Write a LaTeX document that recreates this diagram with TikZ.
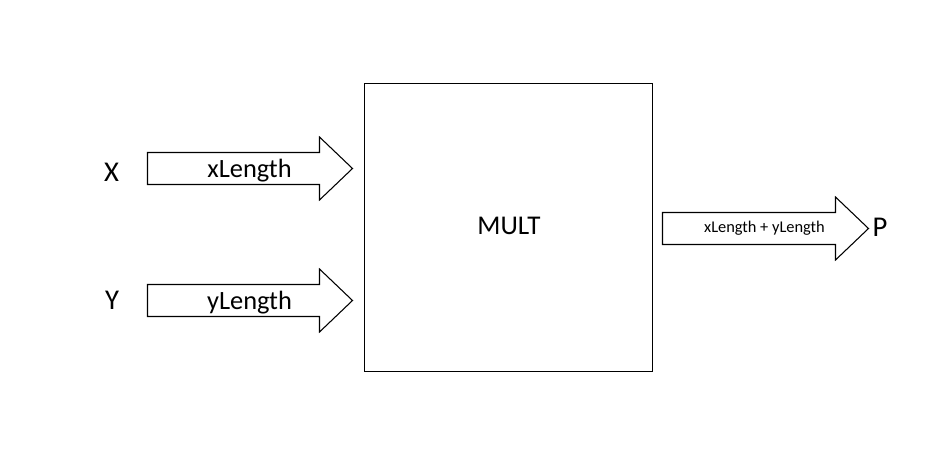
\documentclass[tikz,border=0pt]{standalone}
\usepackage{fontspec}
\setmainfont{Carlito}
\begin{document}
\begin{tikzpicture}[x=0.75pt,y=-0.75pt,
  shapeline/.style={draw=black,line width=0.8pt,fill=white,line join=miter},
  lbl/.style={inner sep=0pt,anchor=base}]
\useasboundingbox (0,0) rectangle (936,456);
\fill[white] (0,0) rectangle (936,456);
% MULT box
\draw[shapeline] (364.5,83.5) rectangle (652.5,371.5);
\node[lbl,font=\fontsize{20.3}{24}\selectfont] (mult) at (509,234) {MULT};
% X arrow
\draw[shapeline] (147.5,152.5) -- (319.5,152.5) -- (319.5,137) -- (352.5,168.5) -- (319.5,200) -- (319.5,184.5) -- (147.5,184.5) -- cycle;
\node[lbl,font=\fontsize{19.8}{24}\selectfont] (xl) at (249.5,177.5) {xLength};
\node[lbl,font=\fontsize{21.5}{24}\selectfont] (x) at (111.5,182) {X};
% Y arrow
\draw[shapeline] (147.5,284.5) -- (319.5,284.5) -- (319.5,269) -- (352.5,300.5) -- (319.5,332) -- (319.5,316.5) -- (147.5,316.5) -- cycle;
\node[lbl,font=\fontsize{19.8}{24}\selectfont] (yl) at (249.5,309.5) {yLength};
\node[lbl,font=\fontsize{21.5}{24}\selectfont] (y) at (112,310) {Y};
% P arrow
\draw[shapeline] (662.5,212.5) -- (835.5,212.5) -- (835.5,197) -- (868.5,228.5) -- (835.5,260) -- (835.5,244.5) -- (662.5,244.5) -- cycle;
\node[lbl,font=\fontsize{12.3}{14}\selectfont] (pl) at (764.5,233) {xLength + yLength};
\node[lbl,font=\fontsize{21.5}{24}\selectfont] (p) at (880,237) {P};
\end{tikzpicture}
\end{document}
